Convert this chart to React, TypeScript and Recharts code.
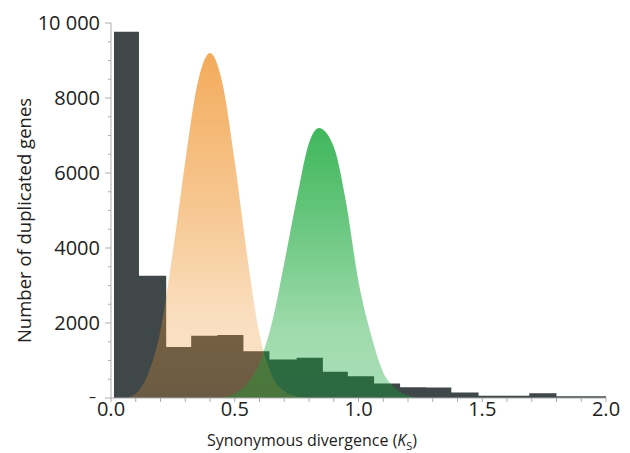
import { ComposedChart, Area, XAxis, YAxis } from "recharts"

// histogram of Ks (bin left edges, last entry closes the final bin)
const binEdges = [0.012, 0.113, 0.223, 0.324, 0.43, 0.535, 0.64, 0.75, 0.856, 0.957, 1.063, 1.168, 1.273, 1.375, 1.485, 1.59, 1.69, 1.8, 1.905, 2.0]
const binCounts = [9770, 3260, 1360, 1660, 1680, 1250, 1030, 1075, 700, 580, 390, 290, 280, 150, 60, 60, 125, 50, 50]

// orange peak
const orangeKs = [0.06, 0.1, 0.15, 0.2, 0.25, 0.3, 0.35, 0.4, 0.45, 0.5, 0.55, 0.6, 0.65, 0.7, 0.75, 0.8]
const orangeCounts = [0, 120, 650, 1800, 3900, 6300, 8400, 9200, 8400, 6300, 3800, 1700, 600, 180, 40, 0]

// green peak
const greenKs = [0.45, 0.5, 0.55, 0.6, 0.65, 0.7, 0.75, 0.8, 0.84, 0.9, 0.95, 1.0, 1.05, 1.1, 1.15, 1.2, 1.25]
const greenCounts = [0, 120, 380, 950, 2000, 3600, 5300, 6800, 7200, 6700, 5200, 3100, 1700, 680, 250, 70, 0]

const xTicks = [0, 0.1, 0.2, 0.3, 0.4, 0.5, 0.6, 0.7, 0.8, 0.9, 1.0, 1.1, 1.2, 1.3, 1.4, 1.5, 1.6, 1.7, 1.8, 1.9, 2.0]
const yTicks = [0, 500, 1000, 1500, 2000, 2500, 3000, 3500, 4000, 4500, 5000, 5500, 6000, 6500, 7000, 7500, 8000, 8500, 9000, 9500, 10000]

const histData = binEdges.map((x, i) => ({ x, n: binCounts[Math.min(i, binCounts.length - 1)] }))
const orangeData = orangeKs.map((x, i) => ({ x, n: orangeCounts[i] }))
const greenData = greenKs.map((x, i) => ({ x, n: greenCounts[i] }))

const FONT = "'Open Sans', sans-serif"
const AXIS_GREY = "#a9adaf"

function XTick({ x, y, payload }: any) {
  const v = payload.value
  const major = Math.abs(v * 2 - Math.round(v * 2)) < 1e-6
  return (
    <g>
      <line x1={x} y1={y} x2={x} y2={y + 4} stroke={AXIS_GREY} />
      {major && (
        <text x={x} y={y + 18} textAnchor="middle" fontSize={20} fill="#222" fontFamily={FONT}>
          {v.toFixed(1)}
        </text>
      )}
    </g>
  )
}

function YTick({ x, y, payload }: any) {
  const v = payload.value
  const major = v % 2000 === 0
  const label = v === 0 ? "–" : v === 10000 ? "10 000" : String(v)
  return (
    <g>
      <line x1={major ? x - 6 : x - 3} y1={y} x2={x} y2={y} stroke={AXIS_GREY} />
      {major && (
        <text x={v === 0 ? x - 15 : x - 11} y={v === 0 ? y + 4 : y + 7} textAnchor="end" fontSize={v === 0 ? 14 : 20} fill="#222" fontFamily={FONT}>
          {label}
        </text>
      )}
    </g>
  )
}

export default function App() {
  return (
    <ComposedChart width={622} height={445} margin={{ top: 15, right: 24, left: 0, bottom: 0 }}>
      <defs>
        <linearGradient id="orangeFill" x1="0" y1="0" x2="0" y2="1">
          <stop offset="0%" stopColor="rgb(240,150,50)" stopOpacity={0.8} />
          <stop offset="50%" stopColor="rgb(240,150,50)" stopOpacity={0.5} />
          <stop offset="75%" stopColor="rgb(240,150,50)" stopOpacity={0.32} />
          <stop offset="100%" stopColor="rgb(240,150,50)" stopOpacity={0.25} />
        </linearGradient>
        <linearGradient id="greenFill" x1="0" y1="0" x2="0" y2="1">
          <stop offset="0%" stopColor="rgb(15,165,50)" stopOpacity={0.8} />
          <stop offset="40%" stopColor="rgb(15,165,50)" stopOpacity={0.6} />
          <stop offset="75%" stopColor="rgb(15,165,50)" stopOpacity={0.4} />
          <stop offset="100%" stopColor="rgb(15,165,50)" stopOpacity={0.36} />
        </linearGradient>
      </defs>
      <XAxis
        dataKey="x"
        type="number"
        domain={[0, 2]}
        ticks={xTicks}
        interval={0}
        height={55}
        stroke={AXIS_GREY}
        tickLine={false}
        tickSize={0}
        tickMargin={0}
        tick={<XTick />}
        allowDataOverflow
        label={{
          position: "insideBottom",
          content: ({ viewBox }: any) => (
            <text x={viewBox.x + 201} y={viewBox.y + viewBox.height - 7} textAnchor="middle" fontSize={16} fill="#222" fontFamily={FONT}>
              Synonymous divergence (<tspan fontStyle="italic">K</tspan>
              <tspan fontSize={11} dy={4}>S</tspan>
              <tspan dy={-4}>)</tspan>
            </text>
          ),
        }}
      />
      <YAxis
        type="number"
        domain={[0, 10000]}
        ticks={yTicks}
        interval={0}
        width={103}
        stroke={AXIS_GREY}
        tickLine={false}
        tickSize={0}
        tickMargin={0}
        tick={<YTick />}
        label={{
          position: "insideLeft",
          content: ({ viewBox }: any) => (
            <text
              x={15}
              y={viewBox.y + viewBox.height / 2 + 10}
              transform={`rotate(-90, 15, ${viewBox.y + viewBox.height / 2 + 10})`}
              textAnchor="middle"
              dominantBaseline="central"
              fontSize={18.5}
              fill="#222"
              fontFamily={FONT}
            >
              Number of duplicated genes
            </text>
          ),
        }}
      />
      <Area data={histData} dataKey="n" type="stepAfter" stroke="none" fill="#3f4749" fillOpacity={1} isAnimationActive={false} dot={false} activeDot={false} />
      <Area data={orangeData} dataKey="n" type="monotone" stroke="none" fill="url(#orangeFill)" fillOpacity={1} isAnimationActive={false} dot={false} activeDot={false} />
      <Area data={greenData} dataKey="n" type="monotone" stroke="none" fill="url(#greenFill)" fillOpacity={1} isAnimationActive={false} dot={false} activeDot={false} />
    </ComposedChart>
  )
}
